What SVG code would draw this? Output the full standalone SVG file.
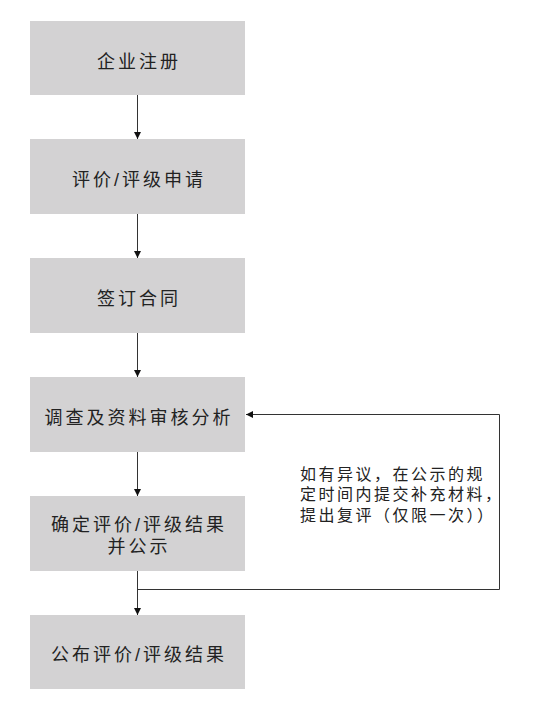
<svg xmlns="http://www.w3.org/2000/svg" width="551" height="712" viewBox="0 0 551 712" lang="zh-CN">
<style>
.box{fill:#d3d2d3;}
.t{font-family:"Liberation Sans","Noto Sans CJK SC",sans-serif;font-size:18px;letter-spacing:3px;fill:#222;text-anchor:middle;}
.n{font-family:"Liberation Sans","Noto Sans CJK SC",sans-serif;font-size:16px;letter-spacing:2.5px;fill:#222;}
.c{stroke:#333;stroke-width:1;fill:none;}
</style>
<defs>
<marker id="ah" markerWidth="8" markerHeight="8" refX="7" refY="4" orient="auto" markerUnits="userSpaceOnUse">
<path d="M0,0.5 L7,4 L0,7.5 Z" fill="#111"/>
</marker>
</defs>
<rect width="551" height="712" fill="#fff"/>
<g id="n1"><rect class="box" x="30" y="21" width="215" height="74"/><text class="t" x="139" y="68">企业注册</text></g>
<g id="n2"><rect class="box" x="30" y="139" width="215" height="75"/><text class="t" x="139" y="186">评价/评级申请</text></g>
<g id="n3"><rect class="box" x="30" y="258" width="215" height="75"/><text class="t" x="139" y="305">签订合同</text></g>
<g id="n4"><rect class="box" x="30" y="377" width="215" height="75"/><text class="t" x="139" y="424">调查及资料审核分析</text></g>
<g id="n5"><rect class="box" x="30" y="496" width="215" height="75"/><text class="t" x="139" y="531">确定评价/评级结果</text><text class="t" x="139" y="553">并公示</text></g>
<g id="n6"><rect class="box" x="30" y="615" width="215" height="74"/><text class="t" x="139" y="661">公布评价/评级结果</text></g>
<g id="connectors">
<line class="c" x1="137.5" y1="95" x2="137.5" y2="139" marker-end="url(#ah)"/>
<line class="c" x1="137.5" y1="214" x2="137.5" y2="258" marker-end="url(#ah)"/>
<line class="c" x1="137.5" y1="333" x2="137.5" y2="377" marker-end="url(#ah)"/>
<line class="c" x1="137.5" y1="452" x2="137.5" y2="496" marker-end="url(#ah)"/>
<line class="c" x1="137.5" y1="571" x2="137.5" y2="615" marker-end="url(#ah)"/>
<polyline class="c" points="137.5,589.5 499.5,589.5 499.5,414.5 246,414.5" marker-end="url(#ah)"/>
</g>
<g id="note">
<text class="n" x="300" y="480">如有异议，在公示的规</text>
<text class="n" x="300" y="500">定时间内提交补充材料，</text>
<text class="n" x="300" y="521">提出复评（仅限一次））</text>
</g>
</svg>
